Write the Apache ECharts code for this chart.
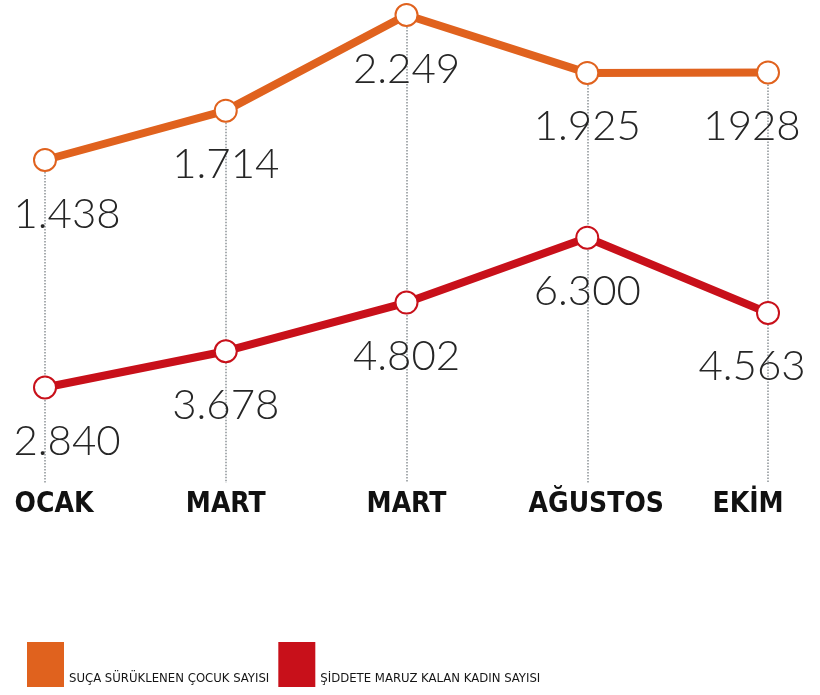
<!DOCTYPE html>
<html>
<head>
<meta charset="utf-8">
<script src="https://cdn.jsdelivr.net/npm/echarts@6/dist/echarts.min.js"></script>
<style>
  html, body { margin: 0; padding: 0; background: #fff; }
  #chart { width: 820px; height: 695px; }
</style>
</head>
<body>
<div id="chart"></div>
<script>
const months = ['OCAK', 'MART', 'MART', 'AĞUSTOS', 'EKİM'];
const cocuk = [1438, 1714, 2249, 1925, 1928];
const cocukLabels = ['1.438', '1.714', '2.249', '1.925', '1928'];
const kadin = [2840, 3678, 4802, 6300, 4563];
const kadinLabels = ['2.840', '3.678', '4.802', '6.300', '4.563'];

const ORANGE = '#E0621E';
const RED = '#C8101A';
const NARROW = "'Liberation Sans Narrow', 'DejaVu Sans Condensed', sans-serif";
const NUM_FONT = "Lato, 'Open Sans', sans-serif";

const COCUK_MIN = -369;
const KADIN_MIN = 635;

// first and last labels are pushed inward like in the print graphic
function labelOffset(i, last, dy) {
  let dx = 0;
  if (i === 0) dx = 22;
  if (i === last) dx = -16;
  return [dx, dy];
}

function buildData(values, labels) {
  return values.map((v, i) => ({
    value: v,
    label: {
      offset: labelOffset(i, values.length - 1, 54),
      formatter: labels[i],
    },
  }));
}

// small nudges of the month names, as in the print
const monthShift = ['r', 'c', 'c', 'r', 'l'];

const chart = echarts.init(document.getElementById('chart'));

const monthStyle = {
  fontFamily: NARROW,
  fontWeight: 'bold',
  fontSize: 28,
  color: '#111',
};

const numLabel = {
  show: true,
  position: 'inside',
  fontFamily: NUM_FONT,
  fontWeight: 300,
  fontSize: 42,
  color: '#262626',
};

const option = {
  animation: false,
  grid: {
    left: 45,
    right: 52,
    top: 0,
    bottom: 212,
    containLabel: false,
  },
  legend: {
    left: 22,
    top: 637,
    icon: 'rect',
    itemWidth: 37,
    itemHeight: 45,
    itemGap: 9,
    selectedMode: false,
    formatter: (name) => '{t|' + name + '}',
    textStyle: {
      rich: {
        t: {
          fontFamily: NARROW,
          fontSize: 13,
          color: '#151515',
          padding: [28, 0, 0, 0],
        },
      },
    },
    data: ['SUÇA SÜRÜKLENEN ÇOCUK SAYISI', 'ŞİDDETE MARUZ KALAN KADIN SAYISI'],
  },
  xAxis: {
    type: 'category',
    data: months,
    boundaryGap: false,
    axisLine: { show: false },
    axisTick: { show: false },
    splitLine: { show: false },
    axisLabel: {
      interval: 0,
      margin: 8,
      formatter: (value, index) => '{' + monthShift[index] + '|' + value + '}',
      rich: {
        c: Object.assign({}, monthStyle),
        r: Object.assign({ padding: [0, 0, 0, 18] }, monthStyle),
        l: Object.assign({ padding: [0, 40, 0, 0] }, monthStyle),
      },
    },
  },
  yAxis: [
    {
      type: 'value',
      min: COCUK_MIN,
      max: 2333,
      show: false,
      splitLine: { show: false },
    },
    {
      type: 'value',
      min: KADIN_MIN,
      max: 11789,
      show: false,
      splitLine: { show: false },
    },
  ],
  series: [
    {
      // dotted guides only, kept under both lines
      name: 'guides',
      type: 'line',
      yAxisIndex: 0,
      z: 1,
      data: cocuk,
      symbol: 'none',
      silent: true,
      lineStyle: { opacity: 0 },
      markLine: {
        z: 1,
        silent: true,
        symbol: 'none',
        animation: false,
        label: { show: false },
        lineStyle: { type: 'dotted', color: '#8c9296', width: 1.5 },
        data: cocuk.map((v, i) => [
          { coord: [i, v] },
          { coord: [i, COCUK_MIN] },
        ]),
      },
    },
    {
      name: 'SUÇA SÜRÜKLENEN ÇOCUK SAYISI',
      type: 'line',
      yAxisIndex: 0,
      z: 2,
      data: buildData(cocuk, cocukLabels),
      symbol: 'emptyCircle',
      symbolSize: 22,
      itemStyle: { color: ORANGE, borderWidth: 2 },
      lineStyle: { color: ORANGE, width: 8 },
      label: numLabel,
    },
    {
      name: 'ŞİDDETE MARUZ KALAN KADIN SAYISI',
      type: 'line',
      yAxisIndex: 1,
      z: 3,
      data: buildData(kadin, kadinLabels),
      symbol: 'emptyCircle',
      symbolSize: 22,
      itemStyle: { color: RED, borderWidth: 2 },
      lineStyle: { color: RED, width: 8 },
      label: numLabel,
    },
  ],
};

chart.setOption(option);
</script>
</body>
</html>
